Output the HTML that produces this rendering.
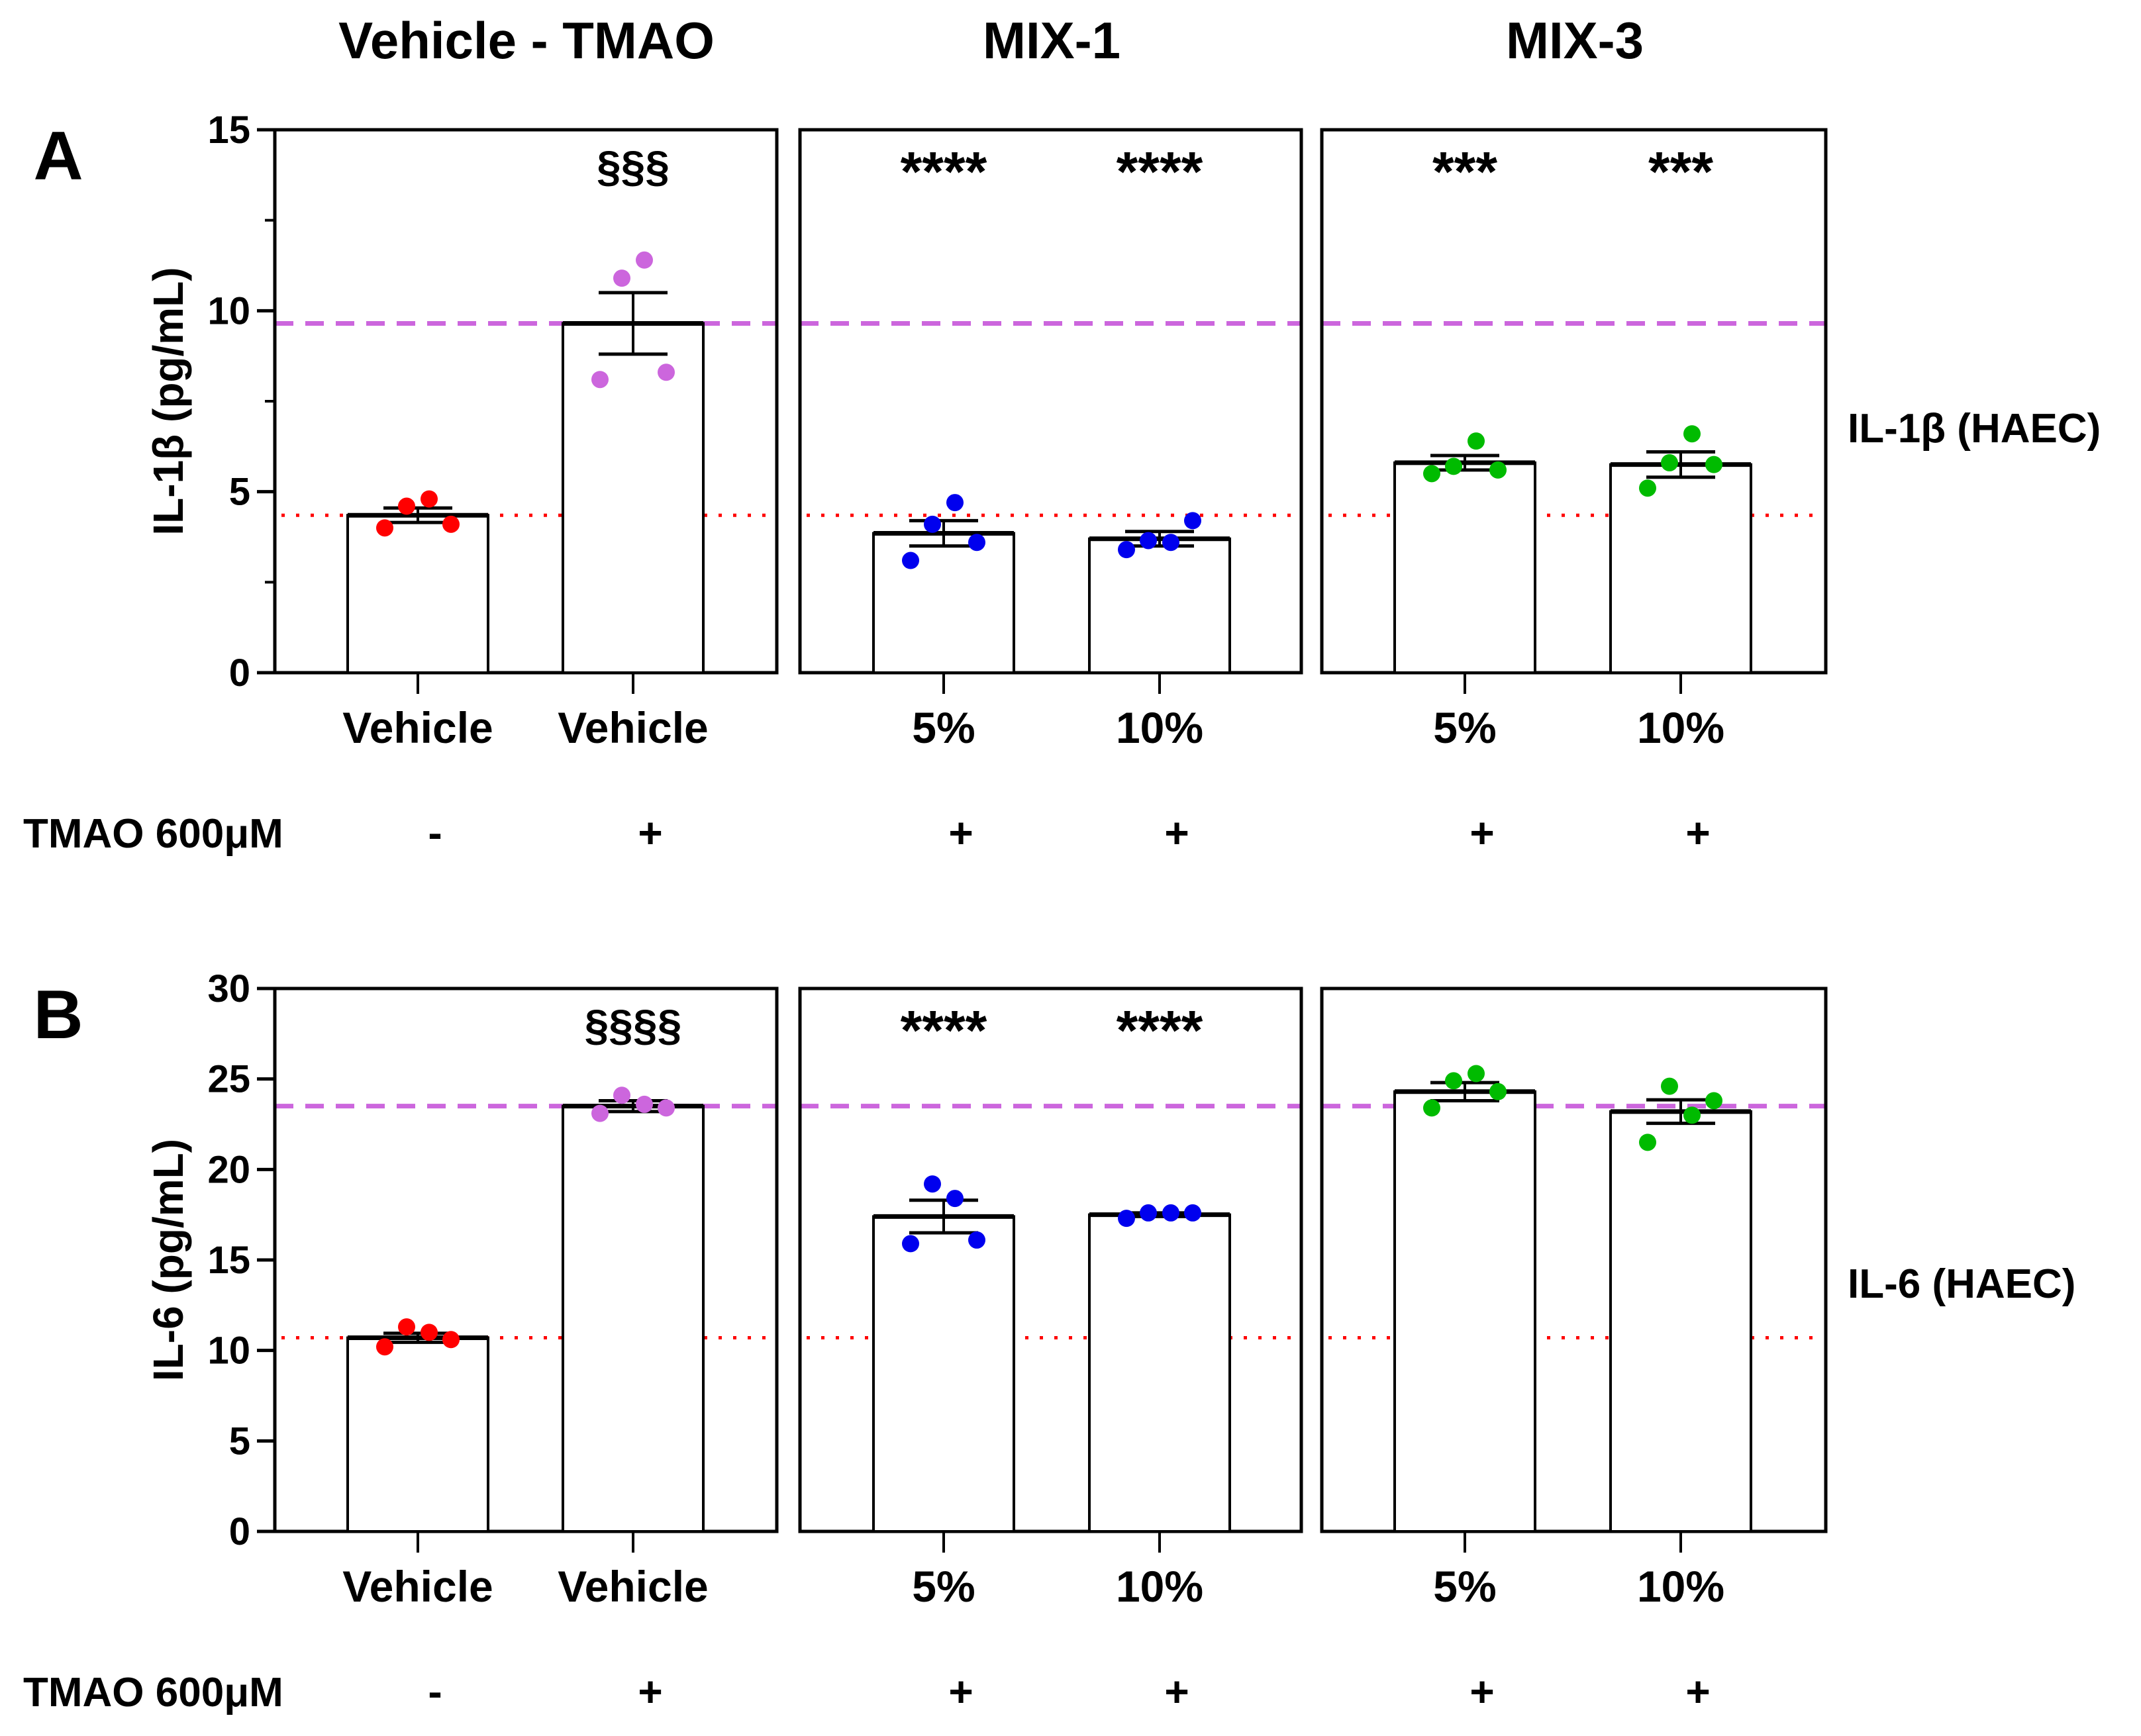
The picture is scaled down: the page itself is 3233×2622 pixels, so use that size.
<!DOCTYPE html>
<html><head><meta charset="utf-8">
<style>
html,body{margin:0;padding:0;background:#fff;}
svg{display:block;font-family:"Liberation Sans",Arial,sans-serif;font-weight:bold;}
</style></head>
<body>
<svg id="chart" width="3233" height="2622" viewBox="0 0 3233 2622" xmlns="http://www.w3.org/2000/svg"></svg>
<script>
const categories = ["Vehicle","Vehicle","5%","10%","5%","10%"];
const tmaoLabels = ["-","+","+","+","+","+"];
const groupTitles = ["Vehicle - TMAO","MIX-1","MIX-3"];
const il1bMeans = [4.35, 9.65, 3.85, 3.7, 5.8, 5.75];
const il1bSem = [0.2, 0.85, 0.35, 0.2, 0.2, 0.35];
const il1bPoints = [[4.0,4.6,4.8,4.1],[8.1,10.9,11.4,8.3],[3.1,4.1,4.7,3.6],[3.4,3.65,3.6,4.2],[5.5,5.7,6.4,5.6],[5.1,5.8,6.6,5.75]];
const il1bSig = ["","§§§","****","****","***","***"];
const il1bTicks = [0,5,10,15];
const il1bMinor = [2.5,7.5,12.5];
const il6Means = [10.7, 23.5, 17.4, 17.5, 24.3, 23.2];
const il6Sem = [0.25, 0.3, 0.9, 0.1, 0.5, 0.65];
const il6Points = [[10.2,11.3,11.0,10.6],[23.1,24.1,23.6,23.4],[15.9,19.2,18.4,16.1],[17.3,17.6,17.6,17.6],[23.4,24.9,25.3,24.3],[21.5,24.6,23.0,23.8]];
const il6Sig = ["","§§§§","****","****","",""];
const il6Ticks = [0,5,10,15,20,25,30];
const il6Minor = [];
const colors = ["#ff0000","#cc66dd","#0000ee","#0000ee","#00bb00","#00bb00"];

const NS="http://www.w3.org/2000/svg";
const svg=document.getElementById('chart');
function el(tag,attrs,parent){const e=document.createElementNS(NS,tag);for(const k in attrs)e.setAttribute(k,attrs[k]);(parent||svg).appendChild(e);return e;}
function txt(s,x,y,size,anchor,parent){const t=el('text',{x:x,y:y,'font-size':size,'text-anchor':anchor||'middle',fill:'#000'},parent);t.textContent=s;return t;}

const barX=[631,956,1425,1751,2212,2538];
const panels=[[415,1173],[1208,1965],[1996,2757]];
const barW=212, jit=[-50,-17,17,50];

groupTitles.forEach((g,i)=>{
  const cx=[795,1588,2378][i];
  const t=txt(g,cx,88,78);
  
  
});

function drawPanel(opt){
  const g=el('g',{});
  
  
  const y=v=>opt.y0-(v/opt.max)*(opt.y0-opt.yTop);
  const L=txt(opt.letter,88,opt.yTop+75,104,'middle',g);
  
  
  const ref=el('g',{},g);
  
  
  panels.forEach(p=>{
    const d=el('line',{x1:p[0],x2:p[1],y1:y(opt.means[1]),y2:y(opt.means[1]),stroke:'#cc66dd','stroke-width':7,'stroke-dasharray':'28 18'},ref);
    
    
    const r=el('line',{x1:p[0]+10,x2:p[1]-10,y1:y(opt.means[0]),y2:y(opt.means[0]),stroke:'#ff0000','stroke-width':5,'stroke-dasharray':'5 17'},ref);
    
    
  });
  panels.forEach((p,i)=>{
    const b=el('rect',{x:p[0],y:opt.yTop,width:p[1]-p[0],height:opt.y0-opt.yTop,fill:'none',stroke:'#000','stroke-width':5},g);
    
    
  });
  const ax=el('g',{},g);
  
  
  opt.ticks.forEach(v=>{
    el('line',{x1:388,x2:415,y1:y(v),y2:y(v),stroke:'#000','stroke-width':5},ax);
    const t=txt(String(v),378,y(v)+20,58,'end',ax);
    
    
  });
  opt.minor.forEach(v=>{el('line',{x1:400,x2:415,y1:y(v),y2:y(v),stroke:'#000','stroke-width':4},ax);});
  const mid=(opt.y0+opt.yTop)/2;
  const yt=txt(opt.ytitle,0,0,64,'middle',ax);
  yt.setAttribute('transform','translate(276,'+mid+') rotate(-90)');
  
  
  categories.forEach((c,i)=>{
    const bx=barX[i];
    const bar=el('rect',{x:bx-barW/2,y:y(opt.means[i]),width:barW,height:opt.y0-y(opt.means[i]),fill:'#fff',stroke:'#000','stroke-width':4},g);
    
    
    el('line',{x1:bx-barW/2,x2:bx+barW/2,y1:y(opt.means[i]),y2:y(opt.means[i]),stroke:'#000','stroke-width':7},g);
    el('line',{x1:bx,x2:bx,y1:opt.y0,y2:opt.y0+32,stroke:'#000','stroke-width':4},g);
    const eb=el('g',{},g);
    
    
    const hi=y(opt.means[i]+opt.sem[i]), lo=y(opt.means[i]-opt.sem[i]);
    el('line',{x1:bx,x2:bx,y1:hi,y2:lo,stroke:'#000','stroke-width':4},eb);
    el('line',{x1:bx-52,x2:bx+52,y1:hi,y2:hi,stroke:'#000','stroke-width':5},eb);
    el('line',{x1:bx-52,x2:bx+52,y1:lo,y2:lo,stroke:'#000','stroke-width':5},eb);
    opt.points[i].forEach((v,k)=>{
      const pt=el('circle',{cx:bx+jit[k],cy:y(v),r:13,fill:colors[i]},g);
      
      
    });
    if(opt.sig[i]){
      const isS=opt.sig[i].startsWith('§');
      const s=txt(opt.sig[i],bx,opt.yTop+(isS?78:92),isS?66:84,'middle',g);
      
      
    }
    const xl=txt(c,bx,opt.y0+106,66,'middle',g);
    
    
    const tl=txt(tmaoLabels[i],bx+26,opt.y0+264,64,'middle',g);
    
    
  });
  const tm=txt('TMAO 600μM',35,opt.y0+264,62,'start',g);
  
  
  const rl=txt(opt.right,2790,opt.rightY,62,'start',g);
  
  
}

drawPanel({name:'panel-a-il1b',letter:'A',yTop:196,y0:1016,max:15,means:il1bMeans,sem:il1bSem,points:il1bPoints,sig:il1bSig,ticks:il1bTicks,minor:il1bMinor,ytitle:'IL-1β (pg/mL)',right:'IL-1β (HAEC)',rightY:668});
drawPanel({name:'panel-b-il6',letter:'B',yTop:1493,y0:2313,max:30,means:il6Means,sem:il6Sem,points:il6Points,sig:il6Sig,ticks:il6Ticks,minor:il6Minor,ytitle:'IL-6 (pg/mL)',right:'IL-6 (HAEC)',rightY:1960});
</script>
</body></html>
